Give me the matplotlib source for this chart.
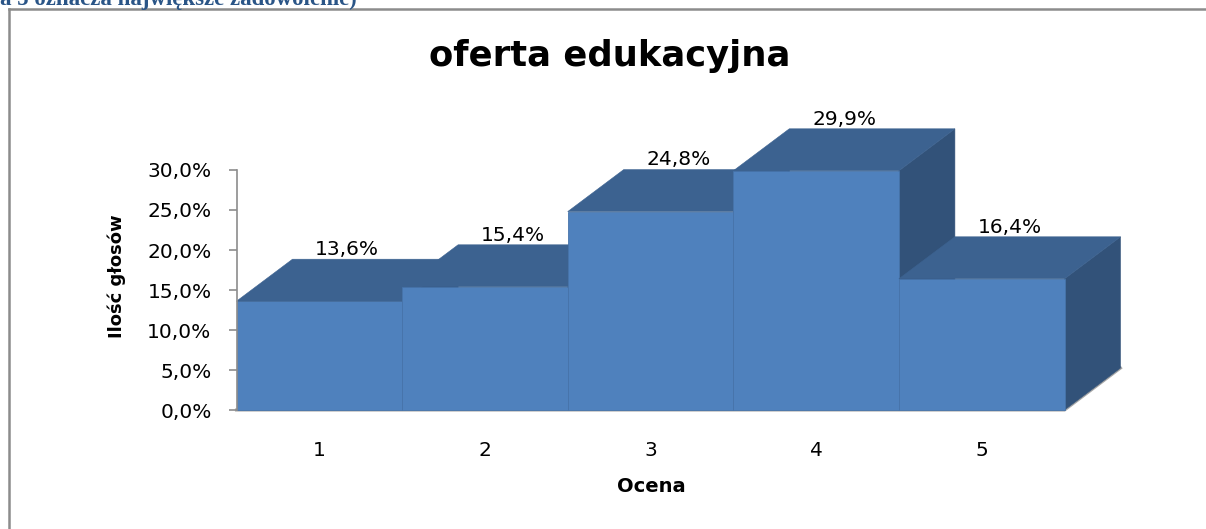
import numpy as np
import matplotlib
matplotlib.use("Agg")
import matplotlib.pyplot as plt
from matplotlib.patches import Polygon
from matplotlib.lines import Line2D

# data
oceny = ["1", "2", "3", "4", "5"]
glosy = [13.6, 15.4, 24.8, 29.9, 16.4]   # % of votes
y_ticks = [0, 5, 10, 15, 20, 25, 30]

title = "oferta edukacyjna"
x_label = "Ocena"
y_label = "Ilość głosów"
header = "a 5 oznacza największe zadowolenie)"

# look
c_front = "#4F81BD"
c_top = "#3C6290"
c_side = "#325279"
c_edge = "#4774AA"
c_axis = "#8C8C8C"

W, H = 1206, 529
px_x = 165.6          # pixels per category
px_y = 8.0            # pixels per percent
ax_left, ax_right = 236.5, 1140.0
ax_bot, ax_top = 410.0, 100.0
ddx = 56 / px_x       # depth offset in data units
ddy = 42 / px_y

plt.rcParams['font.family'] = ['DejaVu Sans']

fig = plt.figure(figsize=(W / 100, H / 100), dpi=100)
ax = fig.add_axes([ax_left / W, (H - ax_bot) / H,
                   (ax_right - ax_left) / W, (ax_bot - ax_top) / H])
ax.set_xlim(0.5, 0.5 + (ax_right - ax_left) / px_x)
ax.set_ylim(0, (ax_bot - ax_top) / px_y)
ax.patch.set_visible(False)

# floor edge (shadow line under the bars)
n = len(glosy)
ax.plot([0.5, n + 0.5, n + 0.5 + ddx], [0, 0, ddy], color="#A6A6A6",
        lw=2.2, zorder=1, clip_on=False, solid_joinstyle="miter")

# 3d bars, drawn left to right so later bars cover earlier sides
for i, v in enumerate(glosy):
    x0 = i + 0.5
    x1 = i + 1.5
    front = Polygon([[x0, 0], [x1, 0], [x1, v], [x0, v]], closed=True,
                    fc=c_front, ec=c_edge, lw=0.6, zorder=2 + i)
    top = Polygon([[x0, v], [x1, v], [x1 + ddx, v + ddy], [x0 + ddx, v + ddy]],
                  closed=True, fc=c_top, ec=c_top, lw=0.4, zorder=2 + i)
    side = Polygon([[x1, 0], [x1 + ddx, ddy], [x1 + ddx, v + ddy], [x1, v]],
                   closed=True, fc=c_side, ec=c_side, lw=0.4, zorder=2 + i)
    for p in (side, front, top):
        p.set_clip_on(False)
        ax.add_patch(p)
    ax.annotate(f"{v:.1f}%".replace(".", ","), (i + 1 + ddx / 2, v + ddy),
                xytext=(0, 3), textcoords="offset points",
                ha="center", va="baseline", fontsize=14.5, zorder=20)

# axes
for s in ("top", "right"):
    ax.spines[s].set_visible(False)
ax.spines["left"].set_bounds(0, 30)
ax.spines["left"].set_color(c_axis)
ax.spines["left"].set_linewidth(1.2)
ax.spines["bottom"].set_visible(False)

ax.set_yticks(y_ticks)
ax.set_yticklabels([f"{t:.1f}%".replace(".", ",") for t in y_ticks])
ax.tick_params(axis="y", direction="out", length=6, width=1.2,
               color=c_axis, labelsize=14.5, pad=12)
ax.set_xticks(np.arange(1, n + 1))
ax.set_xticklabels(oceny)
ax.tick_params(axis="x", length=0, labelsize=14.5, pad=22)

ax.set_xlabel(x_label, fontsize=14, fontweight="bold")
ax.xaxis.set_label_coords((651 - ax_left) / (ax_right - ax_left),
                          (ax_bot - 487) / (ax_bot - ax_top))
ax.xaxis.label.set_va("center")
ax.set_ylabel(y_label, fontsize=13, fontweight="bold")
ax.yaxis.set_label_coords((117 - ax_left) / (ax_right - ax_left),
                          (ax_bot - 276) / (ax_bot - ax_top))
ax.yaxis.label.set_va("center")

fig.text(610 / W, 1 - 66 / H, title, ha="center", va="baseline",
         fontsize=25.5, fontweight="bold")

# chart frame and the cut-off heading above it
fig.add_artist(Line2D([8.5 / W, 1.0], [1 - 8.5 / H] * 2,
                      transform=fig.transFigure, color=c_axis, lw=1.8))
fig.add_artist(Line2D([8.5 / W] * 2, [0.0, 1 - 8.5 / H],
                      transform=fig.transFigure, color=c_axis, lw=1.8))
fig.text(0, 1 - 4.5 / H, header, ha="left", va="baseline", fontsize=16.5,
         fontweight="bold", color="#2A5587", family=["Liberation Serif", "DejaVu Serif"])

fig.savefig("out.png", dpi=100)
